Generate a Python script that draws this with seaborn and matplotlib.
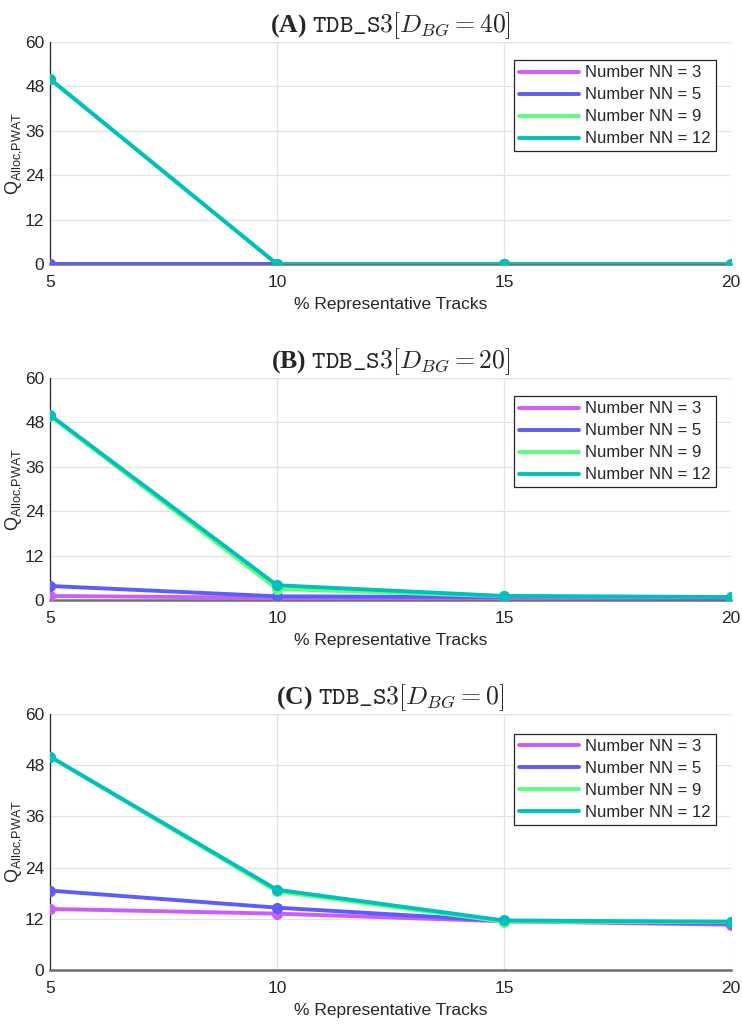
import numpy as np
import pandas as pd
import seaborn as sns
import matplotlib
matplotlib.use("Agg")
import matplotlib.pyplot as plt

# % representative tracks
pct = [5, 10, 15, 20]
nn_labels = ["Number NN = 3", "Number NN = 5", "Number NN = 9", "Number NN = 12"]
colors = ["#cc5cff", "#5c5cff", "#5cff7a", "#00bfbf"]

# Q_Alloc,PWAT per panel, one list per number of NN
a_nn3 = [0.0, 0.0, 0.0, 0.0]
a_nn5 = [0.0, 0.0, 0.0, 0.0]
a_nn9 = [50.0, 0.0, 0.0, 0.0]
a_nn12 = [50.0, 0.0, 0.0, 0.0]

b_nn3 = [1.1, 0.6, 0.5, 0.4]
b_nn5 = [3.8, 1.0, 0.8, 0.6]
b_nn9 = [49.8, 3.0, 1.0, 0.8]
b_nn12 = [50.0, 4.0, 1.1, 0.8]

c_nn3 = [14.3, 13.2, 11.4, 10.6]
c_nn5 = [18.6, 14.6, 11.5, 10.9]
c_nn9 = [50.0, 18.4, 11.3, 11.2]
c_nn12 = [50.0, 18.8, 11.6, 11.3]

panels = [
    ("A", "40", [a_nn3, a_nn5, a_nn9, a_nn12]),
    ("B", "20", [b_nn3, b_nn5, b_nn9, b_nn12]),
    ("C", "0", [c_nn3, c_nn5, c_nn9, c_nn12]),
]

sns.set_theme(style="whitegrid")
plt.rcParams["font.family"] = ["Liberation Sans", "DejaVu Sans"]
plt.rcParams["mathtext.fontset"] = "custom"
plt.rcParams["mathtext.rm"] = "Liberation Sans"
plt.rcParams["mathtext.it"] = "Liberation Sans:italic"

fig = plt.figure(figsize=(7.42, 10.25), dpi=100)
# axes boxes [left, bottom, width, height]
boxes = [
    [0.0674, 0.7424, 0.9176, 0.2166],
    [0.0674, 0.4146, 0.9176, 0.2166],
    [0.0674, 0.0537, 0.9176, 0.2498],
]

for (tag, dbg, series), box in zip(panels, boxes):
    ax = fig.add_axes(box)
    rows = []
    for lab, vals in zip(nn_labels, series):
        for x, v in zip(pct, vals):
            rows.append({"pct": x, "q": v, "nn": lab})
    df = pd.DataFrame(rows)
    sns.lineplot(data=df, x="pct", y="q", hue="nn", hue_order=nn_labels,
                 palette=colors, marker="o", markersize=8, markeredgewidth=0,
                 linewidth=2.8, ax=ax, legend=False, zorder=3)
    ax.set_xlim(5, 20)
    ax.set_ylim(0, 60)
    ax.set_xticks(pct)
    ax.set_yticks(np.arange(0, 61, 12))
    ax.grid(True, color="#e3e3e3", linewidth=0.9)
    for s in ["top", "right"]:
        ax.spines[s].set_visible(False)
    for s in ["left", "bottom"]:
        ax.spines[s].set_visible(True)
        ax.spines[s].set_color("#262626")
        ax.spines[s].set_linewidth(0.9)
    ax.spines["bottom"].set_color("#6e6e6e")
    ax.spines["bottom"].set_linewidth(1.8)
    ax.tick_params(axis="both", direction="in", length=5, width=0.8,
                   colors="#262626", labelsize=12.5, pad=4)
    ax.tick_params(axis="x", pad=8)
    ax.set_xlabel("% Representative Tracks", fontsize=12.5, color="#262626", labelpad=5)
    ax.set_ylabel(r"Q$_{\mathrm{Alloc{,}PWAT}}$", fontsize=13, color="#262626",
                  labelpad=1)
    ax.set_title(r"(%s) $\mathtt{TDB\_S3}[D_{BG}=%s]$" % (tag, dbg),
                 fontsize=18.5, fontfamily="Liberation Serif", fontweight="bold",
                 math_fontfamily="cm", pad=7)
    handles = [plt.Line2D([], [], color=c, linewidth=2.8) for c in colors]
    leg = ax.legend(handles, nn_labels, loc="upper right", fontsize=12,
                    frameon=True, fancybox=False, framealpha=1, edgecolor="#262626",
                    handlelength=3.6, handletextpad=0.35, borderpad=0.3,
                    labelspacing=0.42, bbox_to_anchor=(0.99, 0.955))
    leg.get_frame().set_linewidth(0.9)

fig.savefig("out.png", dpi=100)
